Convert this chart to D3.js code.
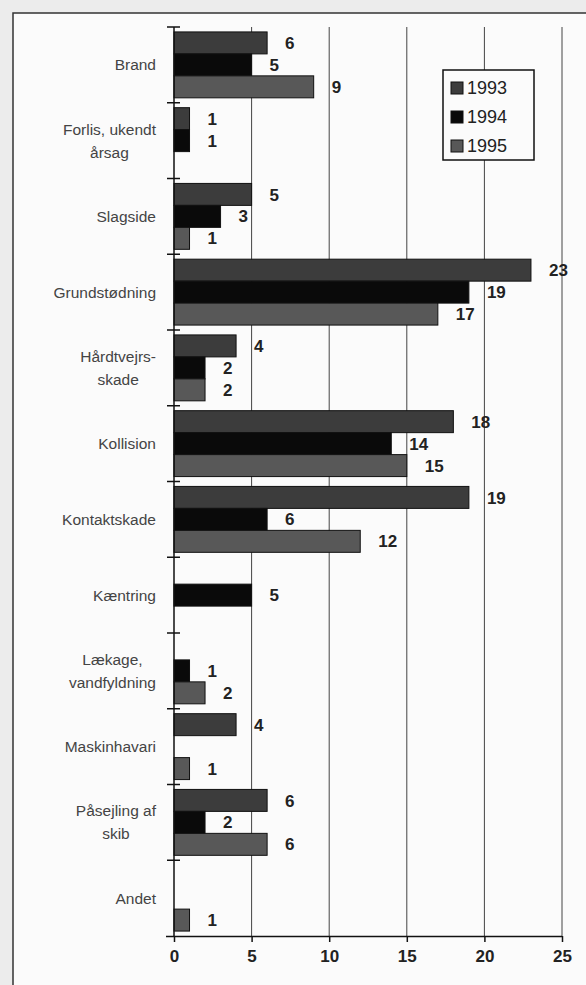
<!DOCTYPE html>
<html>
<head>
<meta charset="utf-8">
<script src="https://cdn.jsdelivr.net/npm/d3@7"></script>
<style>
  body { margin: 0; background: #ececec; }
  svg { display: block; }
</style>
</head>
<body>
<svg id="chart" width="586" height="985"></svg>
<script>
const categories = [
    ["Brand"],
    ["Forlis, ukendt", "årsag"],
    ["Slagside"],
    ["Grundstødning"],
    ["Hårdtvejrs-", "skade"],
    ["Kollision"],
    ["Kontaktskade"],
    ["Kæntring"],
    ["Lækage,", "vandfyldning"],
    ["Maskinhavari"],
    ["Påsejling af", "skib"],
    ["Andet"]
];
const years = ["1993", "1994", "1995"];
const v1993 = [6, 1, 5, 23, 4, 18, 19, null, null, 4, 6, null];
const v1994 = [5, 1, 3, 19, 2, 14, 6, 5, 1, null, 2, null];
const v1995 = [9, null, 1, 17, 2, 15, 12, null, 2, 1, 6, 1];
const xTicks = [0, 5, 10, 15, 20, 25];

const series = [v1993, v1994, v1995];
const colors = ["#3c3c3c", "#0a0a0a", "#585858"];

const svg = d3.select("#chart");
const width = +svg.attr("width");
const height = +svg.attr("height");

// paper + frame
svg.append("rect")
    .attr("x", 13).attr("y", 13)
    .attr("width", width - 13).attr("height", height - 13)
    .attr("fill", "#fbfbfb");
svg.append("path")
    .attr("d", `M13,${height} V13 H${width}`)
    .attr("fill", "none")
    .attr("stroke", "#333")
    .attr("stroke-width", 1.5);

const plotTop = 27, plotBottom = 936, plotLeft = 174, plotRight = 562;

const x = d3.scaleLinear().domain([0, 25]).range([plotLeft, plotRight]);
const keys = categories.map(c => c.join(" "));
const y = d3.scaleBand().domain(keys).range([plotTop, plotBottom]).paddingInner(0.13).paddingOuter(0.065);
const yBoundary = d3.scaleLinear().domain([0, categories.length]).range([plotTop, plotBottom]);
const ySub = d3.scaleBand().domain(years).range([0, y.bandwidth()]);

// gridlines
svg.append("g")
    .selectAll("line")
    .data(xTicks.slice(1))
    .join("line")
    .attr("x1", d => x(d)).attr("x2", d => x(d))
    .attr("y1", plotTop).attr("y2", plotBottom)
    .attr("stroke", "#444")
    .attr("stroke-width", 1);

// bars
const rows = [];
categories.forEach((c, i) => {
    series.forEach((s, j) => {
        if (s[i] != null) rows.push({ cat: keys[i], year: years[j], value: s[i], j: j });
    });
});

svg.append("g")
    .selectAll("rect")
    .data(rows)
    .join("rect")
    .attr("x", x(0))
    .attr("y", d => y(d.cat) + ySub(d.year))
    .attr("width", d => x(d.value) - x(0))
    .attr("height", ySub.bandwidth())
    .attr("fill", d => colors[d.j])
    .attr("stroke", "#111")
    .attr("stroke-width", 1);

// value labels
svg.append("g")
    .selectAll("text")
    .data(rows)
    .join("text")
    .attr("x", d => x(d.value) + 18)
    .attr("y", d => y(d.cat) + ySub(d.year) + ySub.bandwidth() / 2)
    .attr("dy", "0.36em")
    .attr("font-family", "Liberation Sans, Arial, sans-serif")
    .attr("font-size", 17)
    .attr("font-weight", "bold")
    .attr("fill", "#222")
    .text(d => d.value);

// y axis line + category ticks
svg.append("line")
    .attr("x1", plotLeft).attr("x2", plotLeft)
    .attr("y1", plotTop).attr("y2", plotBottom)
    .attr("stroke", "#111").attr("stroke-width", 1.5);
svg.append("g")
    .selectAll("line")
    .data(d3.range(categories.length))
    .join("line")
    .attr("x1", plotLeft - 7).attr("x2", plotLeft + 6)
    .attr("y1", d => yBoundary(d)).attr("y2", d => yBoundary(d))
    .attr("stroke", "#111").attr("stroke-width", 1.5);

// category labels (multi-line blocks, centred lines, right edge fixed)
const labelRight = 156;
const lineH = 23;
const labels = svg.append("g")
    .attr("font-family", "Liberation Sans, Arial, sans-serif")
    .attr("font-size", 15.5)
    .attr("fill", "#444");
categories.forEach((lines, i) => {
    const cy = y(keys[i]) + y.bandwidth() / 2;
    const g = labels.append("g");
    const texts = lines.map((ln, k) => g.append("text")
        .attr("y", cy + (k - (lines.length - 1) / 2) * lineH)
        .attr("dy", "0.36em")
        .attr("text-anchor", "middle")
        .text(ln));
    const maxW = d3.max(texts, t => t.node().getComputedTextLength());
    texts.forEach(t => t.attr("x", labelRight - maxW / 2));
});

// x axis
const xAxis = svg.append("g")
    .attr("transform", `translate(0,${plotBottom})`)
    .call(d3.axisBottom(x).tickValues(xTicks).tickSize(6).tickPadding(8).tickSizeOuter(0));
xAxis.select(".domain").attr("d", `M${plotLeft - 8},0.5H${plotRight}`).attr("stroke", "#111").attr("stroke-width", 1.5);
xAxis.selectAll(".tick line").attr("stroke", "#111").attr("stroke-width", 1.5);
xAxis.selectAll(".tick text")
    .attr("font-family", "Liberation Sans, Arial, sans-serif")
    .attr("font-size", 17)
    .attr("font-weight", "bold")
    .attr("fill", "#222");

// legend
const legend = svg.append("g").attr("transform", "translate(443,70)");
legend.append("rect")
    .attr("width", 91).attr("height", 90)
    .attr("fill", "#fbfbfb")
    .attr("stroke", "#111").attr("stroke-width", 1.5);
const item = legend.selectAll("g")
    .data(years)
    .join("g")
    .attr("transform", (d, i) => `translate(8,${18 + i * 29})`);
item.append("rect")
    .attr("x", 0).attr("y", -6)
    .attr("width", 12).attr("height", 12)
    .attr("fill", (d, i) => colors[i])
    .attr("stroke", "#111");
item.append("text")
    .attr("x", 16)
    .attr("dy", "0.36em")
    .attr("font-family", "Liberation Sans, Arial, sans-serif")
    .attr("font-size", 18)
    .attr("fill", "#222")
    .text(d => d);
</script>
</body>
</html>
